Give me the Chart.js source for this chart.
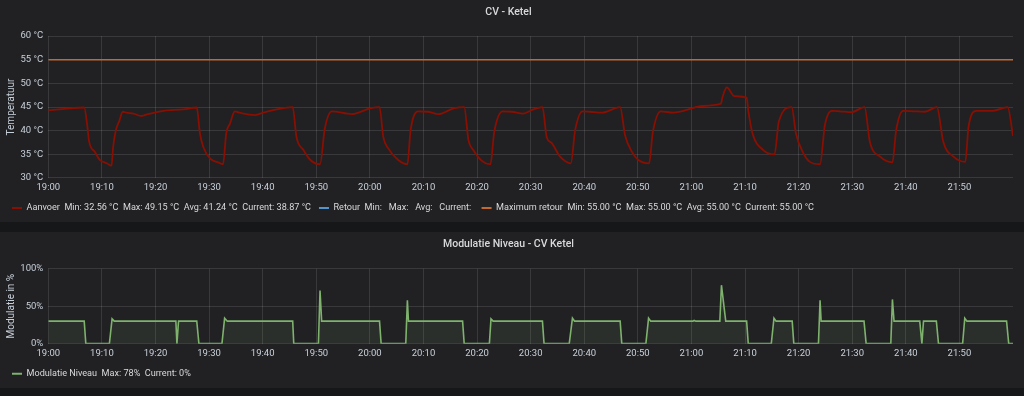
<!DOCTYPE html>
<html>
<head>
<meta charset="utf-8">
<script src="https://cdn.jsdelivr.net/npm/chart.js@4/dist/chart.umd.min.js"></script>
<style>
    body { margin: 0; background: #161719; width: 1024px; height: 396px; overflow: hidden; }
    .panel { position: absolute; left: 0; width: 1024px; background: #212124; }
    .panel div { position: absolute; left: 0; top: 0; width: 1024px; }
    #panelTemp { top: 0; height: 222px; }
    #panelTemp div { height: 223px; }
    #panelMod { top: 232px; height: 156px; }
    #panelMod div { height: 157px; }
</style>
</head>
<body>
<div class="panel" id="panelTemp"><div><canvas id="tempChart"></canvas></div></div>
<div class="panel" id="panelMod"><div><canvas id="modChart"></canvas></div></div>
<script>
// minutes after 19:00
const timeLabels = ['19:00', '19:10', '19:20', '19:30', '19:40', '19:50', '20:00', '20:10', '20:20',
    '20:30', '20:40', '20:50', '21:00', '21:10', '21:20', '21:30', '21:40', '21:50'];

const aanvoerTimes = [0, 3, 6.7, 7.3, 7.6, 8.7, 9.6, 10.9, 11.8, 12.1, 12.6, 13.2, 13.9, 14.6, 15.9, 17.4, 18.6, 21.5, 25.2, 27.7,
    28.3, 28.9, 30.2, 31.7, 32.6, 33.2, 33.9, 34.8, 35.7, 38.6, 40.1, 42.6, 45.6,
    46.3, 47.6, 48.9, 50.7, 51.6, 52.9, 56.6, 60.0, 61.8,
    62.5, 63.4, 65.3, 67.0, 67.6, 69.0, 70.9, 72.8, 75.6, 77.6,
    78.4, 79.3, 80.9, 82.5, 83.2, 84.8, 86.5, 88.6, 90.5, 92.2,
    93.0, 93.9, 95.5, 97.5, 98.3, 99.7, 101.1, 103.3, 106.7,
    107.6, 108.9, 110.1, 112.1, 112.8, 114.3, 116.6, 120.1, 121.6, 125.5, 125.8, 126.6, 128.0, 130.3,
    130.6, 131.4, 133.4, 135.5, 136.3, 138.7,
    139.5, 140.9, 142.1, 144.0, 144.9, 146.2, 147.7, 149.9, 152.3,
    153.3, 155.2, 157.5, 158.2, 159.5, 161.4, 163.6, 165.8,
    167.0, 168.9, 171.1, 171.7, 173.2, 176.3, 179.0, 180];
const aanvoerValues = [44.3, 44.6, 44.9, 40.8, 37.8, 35.5, 33.8, 33.1, 32.6, 36.6, 40.1, 41.9, 44.0, 43.8, 43.6, 43.1, 43.5, 44.2, 44.5, 44.9,
    39.4, 36.6, 34.1, 33.3, 32.9, 39.4, 41.5, 44.1, 43.8, 43.3, 43.8, 44.5, 45.0,
    38.7, 35.9, 33.8, 32.9, 40.5, 44.1, 43.5, 44.7, 45.0,
    38.7, 36.3, 33.8, 32.9, 40.1, 44.1, 44.0, 43.5, 44.7, 45.0,
    38.0, 35.9, 33.6, 32.9, 39.7, 44.1, 44.0, 43.6, 44.5, 45.0,
    38.6, 37.4, 34.5, 33.1, 40.1, 44.1, 44.0, 43.8, 45.0,
    39.1, 35.5, 33.8, 33.1, 39.7, 44.1, 43.8, 44.7, 45.2, 45.7, 47.1, 49.15, 47.3, 47.0,
    44.3, 39.4, 35.9, 35.0, 41.9, 45.0,
    39.4, 35.2, 33.4, 32.9, 41.2, 44.2, 44.1, 43.9, 45.0,
    37.6, 34.5, 33.3, 40.1, 44.2, 44.1, 44.0, 45.0,
    37.6, 34.5, 33.4, 40.8, 44.2, 44.2, 45.0, 38.87];

const maxRetourTimes = [0, 180];
const maxRetourValues = [55, 55];

const modTimes = [0, 6.7, 7.0, 11.4, 11.9, 12.3, 23.8, 24.0, 24.3, 27.7, 28.1, 32.4, 32.9, 33.4, 45.6, 45.8,
    50.4, 50.7, 51.0, 61.8, 62.1, 66.7, 67.0, 67.2, 77.3, 77.6, 82.3, 82.6, 83.0, 92.2, 92.5,
    97.2, 97.8, 98.2, 106.7, 107.0, 111.5, 112.0, 112.4, 120.3, 120.5, 120.8, 125.3, 125.6, 125.9, 126.4,
    130.3, 130.6, 134.9, 135.4, 135.8, 138.8, 139.1, 143.7, 144.0, 144.2, 152.2, 152.6,
    157.2, 157.5, 157.8, 162.6, 163.0, 163.3, 165.7, 166.1, 170.6, 171.0, 171.4, 178.8, 179.2, 180];
const modValues = [30, 30, 0, 0, 33, 30, 30, 0, 30, 30, 0, 0, 34, 30, 30, 0,
    0, 71, 30, 30, 0, 0, 58, 30, 30, 0, 0, 33, 30, 30, 0,
    0, 34, 30, 30, 0, 0, 34, 30, 30, 31, 30, 30, 78, 60, 30,
    30, 0, 0, 34, 30, 30, 0, 0, 58, 30, 30, 0,
    0, 59, 30, 30, 0, 30, 30, 0, 0, 34, 30, 30, 0, 0];

const tempTicks = [30, 35, 40, 45, 50, 55, 60];
const modTicks = [0, 50, 100];

const tempLegend = [
    'Aanvoer  Min: 32.56 °C  Max: 49.15 °C  Avg: 41.24 °C  Current: 38.87 °C',
    'Retour  Min:   Max:   Avg:   Current: ',
    'Maximum retour  Min: 55.00 °C  Max: 55.00 °C  Avg: 55.00 °C  Current: 55.00 °C'
];
const modLegend = ['Modulatie Niveau  Max: 78%  Current: 0%'];

const textColor = '#d8d9da';
const gridColor = 'rgba(255,255,255,0.11)';

Chart.defaults.font.family = 'Roboto, "Liberation Sans", sans-serif';
Chart.defaults.font.size = 9.5;
Chart.defaults.color = '#c7d0d9';

function points(xs, ys) {
    return xs.map((x, i) => ({ x: x, y: ys[i] }));
}

function makeChart(id, title, titleGap, bottomPad, yTitle, yMin, yMax, yTicks, yFormat, datasets, legendTexts) {
    return new Chart(document.getElementById(id), {
        type: 'line',
        data: { datasets: datasets },
        options: {
            responsive: true,
            maintainAspectRatio: false,
            animation: false,
            layout: { padding: { left: 4, right: 11, top: 0, bottom: bottomPad } },
            elements: { point: { radius: 0 }, line: { tension: 0 } },
            plugins: {
                title: {
                    display: true,
                    text: title,
                    color: textColor,
                    font: { size: 10.5, weight: '500' },
                    padding: { top: 6, bottom: titleGap }
                },
                legend: {
                    position: 'bottom',
                    align: 'start',
                    labels: {
                        boxWidth: 10,
                        boxHeight: 2,
                        padding: 8,
                        color: textColor,
                        font: { size: 9.1 },
                        generateLabels: (chart) => chart.data.datasets.map((ds, i) => ({
                            text: legendTexts[i],
                            fillStyle: ds.borderColor,
                            strokeStyle: ds.borderColor,
                            lineWidth: 0,
                            fontColor: textColor,
                            datasetIndex: i
                        }))
                    }
                },
                tooltip: { enabled: false }
            },
            scales: {
                x: {
                    type: 'linear',
                    min: 0,
                    max: 180,
                    border: { display: false },
                    grid: { color: gridColor, drawTicks: false },
                    afterBuildTicks: (scale) => {
                        scale.ticks = timeLabels.map((l, i) => ({ value: i * 10 }));
                    },
                    afterFit: (scale) => { scale.height = 17.5; },
                    ticks: {
                        padding: 4,
                        maxRotation: 0,
                        autoSkip: false,
                        callback: (v) => timeLabels[Math.round(v / 10)]
                    }
                },
                y: {
                    min: yMin,
                    max: yMax,
                    border: { display: false },
                    grid: { color: gridColor, drawTicks: false },
                    afterBuildTicks: (scale) => {
                        scale.ticks = yTicks.map(v => ({ value: v }));
                    },
                    afterFit: (scale) => { scale.width = 44.3; },
                    ticks: { padding: 5, callback: yFormat },
                    title: { display: true, text: yTitle, font: { size: 10 }, padding: { top: 1, bottom: 2 } }
                }
            }
        }
    });
}

makeChart('tempChart', 'CV - Ketel', 17.5, 0.45, 'Temperatuur', 30, 60, tempTicks, (v) => v + ' °C', [
    {
        label: 'Aanvoer', data: points(aanvoerTimes, aanvoerValues), borderColor: '#890f02', borderWidth: 1.8,
        cubicInterpolationMode: 'monotone'
    },
    { label: 'Retour', data: [], borderColor: '#5195ce', borderWidth: 1.5 },
    { label: 'Maximum retour', data: points(maxRetourTimes, maxRetourValues), borderColor: '#c4692e', borderWidth: 1.5 }
], tempLegend);

makeChart('modChart', 'Modulatie Niveau - CV Ketel', 18.1, 0.75, 'Modulatie in %', 0, 100, modTicks, (v) => v + '%', [
    {
        label: 'Modulatie Niveau', data: points(modTimes, modValues), borderColor: '#7eb26d', borderWidth: 1.6,
        fill: 'origin', backgroundColor: 'rgba(126,178,109,0.1)'
    }
], modLegend);
</script>
</body>
</html>
